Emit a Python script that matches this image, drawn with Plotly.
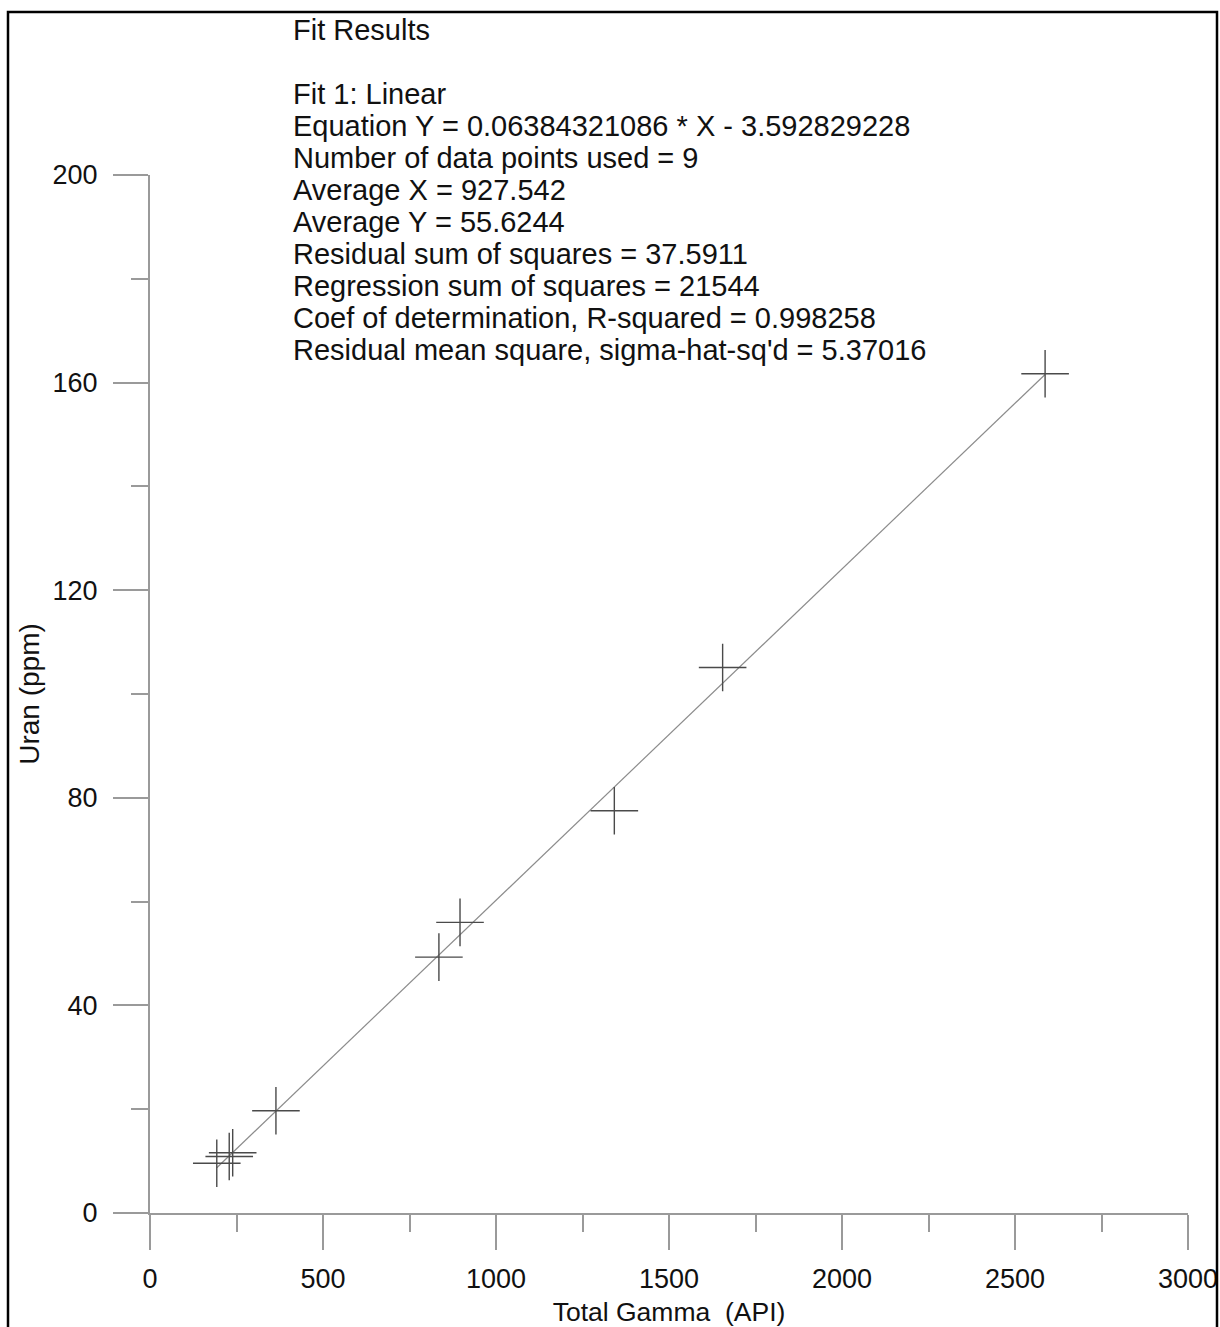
import plotly.graph_objects as go

# Measured samples: total gamma (API) vs uranium content (ppm)
total_gamma = [193, 229, 239, 364, 835, 896, 1342, 1655, 2587]
uran_ppm = [9.6, 10.9, 11.6, 19.7, 49.3, 56.0, 77.5, 105.1, 161.7]

# Linear fit coefficients reported by the regression
fit_slope = 0.06384321086
fit_intercept = -3.592829228

fit_lines = [
    "Fit Results",
    "",
    "Fit 1: Linear",
    "Equation Y = 0.06384321086 * X - 3.592829228",
    "Number of data points used = 9",
    "Average X = 927.542",
    "Average Y = 55.6244",
    "Residual sum of squares = 37.5911",
    "Regression sum of squares = 21544",
    "Coef of determination, R-squared = 0.998258",
    "Residual mean square, sigma-hat-sq'd = 5.37016",
]

W, H = 1220, 1327
ML, MR, MT, MB = 150, 32, 175, 114
FONT = "Liberation Sans, Arial, sans-serif"
AXIS_GRAY = "#9a9a9a"
TEXT = "#111111"


def px_to_paper(px, py):
    return (px - ML) / (W - ML - MR), 1 - (py - MT) / (H - MT - MB)


fig = go.Figure()

x_fit = [min(total_gamma), max(total_gamma)]
y_fit = [fit_slope * x + fit_intercept for x in x_fit]
fig.add_trace(go.Scatter(
    x=x_fit, y=y_fit, mode="lines",
    line=dict(color="#8c8c8c", width=1.2),
    showlegend=False, hoverinfo="skip",
))

fig.add_trace(go.Scatter(
    x=total_gamma, y=uran_ppm, mode="markers",
    marker=dict(symbol="cross-thin-open", size=34, color="#4a4a4a",
                line=dict(color="#4a4a4a", width=1.4)),
    showlegend=False,
))

annotations = []
for i, line in enumerate(fit_lines):
    if not line:
        continue
    ax, ay = px_to_paper(291, 30 + 32 * i)
    annotations.append(dict(
        text=line, x=ax, y=ay, xref="paper", yref="paper",
        xanchor="left", yanchor="middle", showarrow=False,
        font=dict(family=FONT, size=29, color=TEXT),
    ))

# Outer frame around the whole figure
frame = dict(
    type="rect", xref="paper", yref="paper",
    x0=px_to_paper(8, 0)[0], x1=px_to_paper(1217, 0)[0],
    y0=px_to_paper(0, 1340)[1], y1=px_to_paper(0, 12)[1],
    line=dict(color="#000000", width=2.5), fillcolor="rgba(0,0,0,0)",
    layer="above",
)

fig.update_layout(
    width=W, height=H,
    margin=dict(l=ML, r=MR, t=MT, b=MB, autoexpand=False),
    paper_bgcolor="white", plot_bgcolor="white",
    font=dict(family=FONT, color=TEXT),
    annotations=annotations,
    shapes=[frame],
)

fig.update_xaxes(
    range=[0, 3000], showgrid=False, zeroline=False, automargin=False,
    showline=True, linecolor=AXIS_GRAY, linewidth=2,
    ticks="outside", ticklen=35, tickwidth=1.5, tickcolor=AXIS_GRAY,
    tickmode="linear", tick0=0, dtick=500, ticklabelstandoff=6,
    minor=dict(ticks="outside", ticklen=17, tickwidth=1.5,
               tickcolor=AXIS_GRAY, dtick=250, showgrid=False),
    tickfont=dict(size=27, color=TEXT),
    title=dict(text="Total Gamma\u00a0 (API)", font=dict(size=26.5, color=TEXT),
               standoff=12),
)
fig.update_yaxes(
    range=[0, 200], showgrid=False, zeroline=False, automargin=False,
    showline=True, linecolor=AXIS_GRAY, linewidth=2,
    ticks="outside", ticklen=35, tickwidth=1.5, tickcolor=AXIS_GRAY,
    tickmode="linear", tick0=0, dtick=40, ticklabelstandoff=10,
    minor=dict(ticks="outside", ticklen=17, tickwidth=1.5,
               tickcolor=AXIS_GRAY, dtick=20, showgrid=False),
    tickfont=dict(size=27, color=TEXT),
    title=dict(text="Uran (ppm)", font=dict(size=28, color=TEXT),
               standoff=5),
)

fig.write_html("out.html")
